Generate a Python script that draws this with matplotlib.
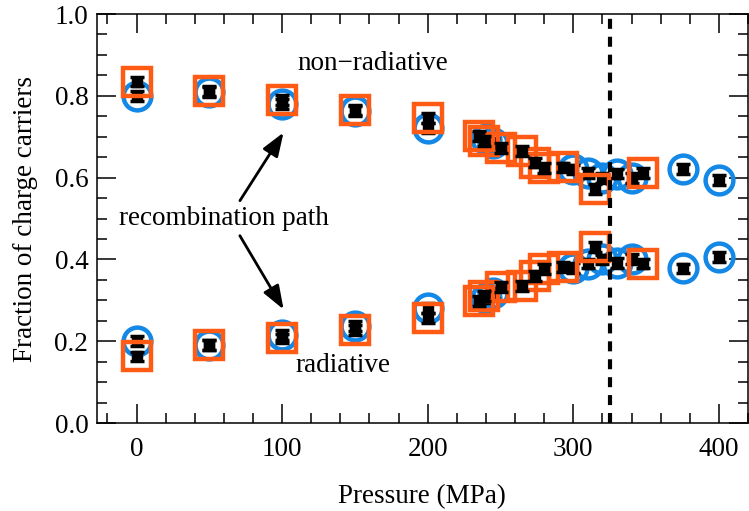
import matplotlib.pyplot as plt
from matplotlib.ticker import MultipleLocator

plt.rcParams['font.family'] = ['Liberation Serif', 'DejaVu Serif']

# pressure series measured with the circle set-up
p_circ = [0, 50, 100, 150, 200, 240, 245, 300, 310, 320, 330, 340, 375, 400]
nonrad_circ = [0.800, 0.810, 0.780, 0.762, 0.722, 0.695, 0.685, 0.620, 0.612,
               0.600, 0.610, 0.600, 0.622, 0.595]
rad_circ = [0.200, 0.190, 0.215, 0.238, 0.282, 0.305, 0.318, 0.380, 0.390,
            0.400, 0.392, 0.402, 0.378, 0.407]

# pressure series measured with the square set-up
p_sq = [0, 50, 100, 150, 200, 235, 239, 250, 265, 274, 280, 293, 315, 348]
nonrad_sq = [0.835, 0.812, 0.790, 0.766, 0.745, 0.702, 0.689, 0.672, 0.666,
             0.637, 0.623, 0.625, 0.573, 0.612]
rad_sq = [0.163, 0.190, 0.207, 0.228, 0.256, 0.299, 0.311, 0.332, 0.336,
          0.359, 0.377, 0.381, 0.430, 0.390]

err = 0.012
p_transition = 325

blue = '#1488e6'
orange = '#ff5b14'
fs = 19.5

fig = plt.figure(figsize=(7.49, 5.11), dpi=100)
ax = fig.add_axes([0.129, 0.172, 0.8697, 0.8006])


def draw_set(p, vals, marker, color, z):
    ax.plot(p, vals, ls='none', marker=marker, ms=20, mfc='none', mec=color,
            mew=3.2, zorder=z)
    ax.errorbar(p, vals, yerr=err, fmt='s', ms=7, color='black', ecolor='black',
                elinewidth=2, capsize=5, capthick=2.5, zorder=z + 0.5)


for vals in (nonrad_circ, rad_circ):
    draw_set(p_circ, vals, 'o', blue, 2)
for vals in (nonrad_sq, rad_sq):
    draw_set(p_sq, vals, 's', orange, 4)

ax.axvline(p_transition, color='black', lw=3, dashes=(2.4, 1.9), zorder=6)

arrow = dict(arrowstyle='-|>,head_length=0.6,head_width=0.22', color='black',
             lw=2, mutation_scale=24)
ax.annotate('', xy=(102, 0.716), xytext=(70, 0.538), arrowprops=arrow)
ax.annotate('', xy=(102, 0.272), xytext=(70, 0.464), arrowprops=arrow)
ax.text(60, 0.501, 'recombination path', fontsize=fs, ha='center', va='center')
ax.text(162, 0.878, 'non\u2212radiative', fontsize=fs, ha='center', va='center')
ax.text(142, 0.14, 'radiative', fontsize=fs, ha='center', va='center')

ax.set_xlim(-27.4, 420)
ax.set_ylim(0, 1.0)
ax.xaxis.set_major_locator(MultipleLocator(100))
ax.xaxis.set_minor_locator(MultipleLocator(20))
ax.yaxis.set_major_locator(MultipleLocator(0.2))
ax.yaxis.set_minor_locator(MultipleLocator(0.05))
ax.yaxis.set_major_formatter(lambda v, pos: f'{v:.1f}')

ax.tick_params(which='both', direction='in', top=True, right=True,
               width=1.1, labelsize=fs)
ax.tick_params(which='major', length=13.5)
ax.tick_params(which='minor', length=7)
ax.tick_params(axis='x', pad=10)
ax.tick_params(axis='y', pad=6)
for s in ax.spines.values():
    s.set_linewidth(1.1)

ax.set_xlabel('Pressure (MPa)', fontsize=fs, labelpad=16)
ax.set_ylabel('Fraction of charge carriers', fontsize=fs, labelpad=12)

plt.savefig('out.png', dpi=100)
